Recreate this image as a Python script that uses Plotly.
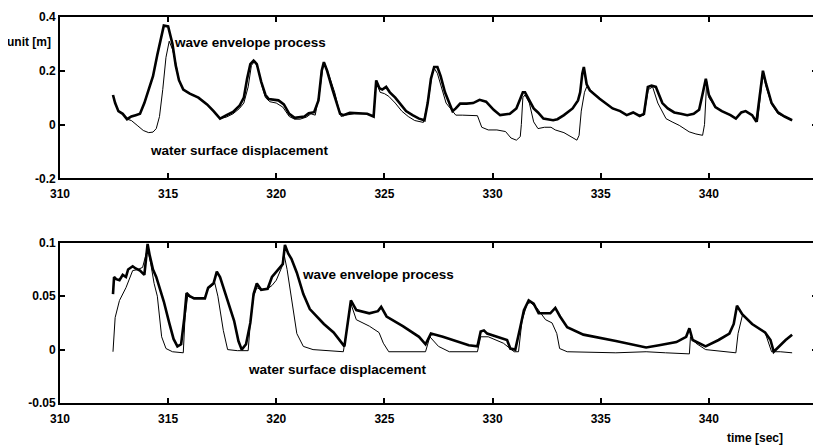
import plotly.graph_objects as go

# ---------------- top panel ----------------
t_env_top = [312.45, 312.55, 312.7, 312.9, 313.1, 313.3, 313.5, 313.7, 313.9, 314.1, 314.3, 314.5, 314.65, 314.8,
             315.0, 315.1, 315.2, 315.35, 315.5, 315.7, 316.0, 316.4, 316.8, 317.1, 317.4, 317.7, 318.0, 318.3,
             318.5, 318.65, 318.8, 318.95, 319.1, 319.3, 319.5, 319.65, 319.9, 320.1, 320.35, 320.6, 320.85,
             321.1, 321.3, 321.5, 321.75, 321.95, 322.1, 322.2, 322.35, 322.6, 322.8, 322.95, 323.1, 323.4,
             323.8, 324.2, 324.5, 324.62, 324.77, 324.9, 325.08, 325.25, 325.5, 325.7, 326.0, 326.3, 326.6,
             326.85, 327.0, 327.15, 327.3, 327.45, 327.6, 327.8, 328.0, 328.15, 328.3, 328.5, 328.8, 329.1,
             329.4, 329.7, 330.05, 330.35, 330.8, 331.1, 331.3, 331.4, 331.5, 331.6, 331.9, 332.1, 332.35,
             332.8, 333.0, 333.3, 333.7, 333.95, 334.05, 334.15, 334.22, 334.35, 334.5, 334.95, 335.2, 335.55,
             335.9, 336.2, 336.5, 336.8, 337.0, 337.18, 337.35, 337.55, 337.7, 337.85, 338.1, 338.4, 338.7,
             339.0, 339.3, 339.55, 339.7, 339.86, 340.0, 340.3, 340.6, 341.0, 341.25, 341.5, 341.7, 342.0,
             342.2, 342.35, 342.5, 342.65, 342.9, 343.2, 343.5, 343.85]
y_env_top = [0.11, 0.08, 0.05, 0.04, 0.02, 0.03, 0.035, 0.04, 0.08, 0.13, 0.18, 0.26, 0.32, 0.368,
             0.365, 0.33, 0.30, 0.22, 0.165, 0.13, 0.115, 0.10, 0.075, 0.05, 0.022, 0.035, 0.047, 0.07,
             0.10, 0.17, 0.225, 0.238, 0.225, 0.16, 0.11, 0.095, 0.092, 0.09, 0.075, 0.04, 0.025,
             0.028, 0.03, 0.042, 0.046, 0.09, 0.20, 0.232, 0.20, 0.13, 0.08, 0.04, 0.035, 0.044,
             0.042, 0.04, 0.03, 0.164, 0.135, 0.13, 0.14, 0.12, 0.10, 0.08, 0.05, 0.035, 0.022,
             0.016, 0.08, 0.17, 0.214, 0.214, 0.18, 0.12, 0.08, 0.05, 0.06, 0.078, 0.078, 0.08,
             0.092, 0.085, 0.055, 0.035, 0.04, 0.06, 0.10, 0.12, 0.12, 0.105, 0.06, 0.045, 0.022,
             0.016, 0.02, 0.035, 0.06, 0.09, 0.12, 0.19, 0.214, 0.15, 0.127, 0.096, 0.08, 0.06,
             0.05, 0.035, 0.045, 0.032, 0.04, 0.14, 0.145, 0.14, 0.11, 0.08, 0.06, 0.045, 0.04,
             0.035, 0.04, 0.055, 0.11, 0.17, 0.11, 0.065, 0.05, 0.035, 0.022, 0.045, 0.05, 0.035,
             0.01, 0.10, 0.20, 0.15, 0.08, 0.045, 0.03, 0.016]

t_wat_top = [312.45, 312.55, 312.7, 312.9, 313.1, 313.3, 313.6, 313.85, 314.1, 314.3, 314.45, 314.6, 314.75,
             314.9, 315.05, 315.2, 315.35, 315.5, 315.7, 316.0, 316.4, 316.8, 317.1, 317.4, 317.7, 318.0,
             318.3, 318.5, 318.7, 318.85, 319.0, 319.15, 319.35, 319.5, 319.7, 320.0, 320.3, 320.6, 320.85,
             321.1, 321.4, 321.6, 321.8, 322.0, 322.15, 322.25, 322.45, 322.7, 322.85, 323.0, 323.2, 323.6,
             324.2, 324.5, 324.62, 324.8, 325.0, 325.2, 325.5, 325.8, 326.1, 326.4, 326.8, 327.05, 327.2,
             327.3, 327.45, 327.65, 327.85, 328.0, 328.3, 328.6, 329.0, 329.3, 329.5, 329.8, 330.2, 330.6,
             330.85, 331.1, 331.28, 331.33, 331.4, 331.5, 331.7, 331.9, 332.1, 332.4, 332.7, 332.9, 333.3,
             333.6, 333.9, 334.0, 334.1, 334.25, 334.35, 334.5, 334.95, 335.2, 335.55, 335.9, 336.2, 336.5,
             336.8, 337.0, 337.2, 337.4, 337.64, 338.02, 338.3, 338.63, 339.09, 339.4, 339.71, 339.8, 339.9,
             340.0, 340.3, 340.6, 341.0, 341.25, 341.5, 341.7, 342.0, 342.25, 342.4, 342.5, 342.65, 342.9,
             343.2, 343.5, 343.85]
y_wat_top = [0.11, 0.08, 0.05, 0.04, 0.02, 0.015, -0.005, -0.022, -0.03, -0.028, -0.015, 0.03, 0.13,
             0.25, 0.31, 0.28, 0.23, 0.165, 0.13, 0.115, 0.10, 0.075, 0.05, 0.022, 0.028, 0.04,
             0.06, 0.08, 0.14, 0.22, 0.235, 0.21, 0.14, 0.10, 0.085, 0.08, 0.065, 0.03, 0.02,
             0.02, 0.028, 0.04, 0.035, 0.12, 0.21, 0.226, 0.18, 0.12, 0.07, 0.03, 0.035, 0.04,
             0.04, 0.03, 0.16, 0.12, 0.115, 0.105, 0.08, 0.05, 0.03, 0.015, 0.008, 0.10, 0.19,
             0.21, 0.19, 0.13, 0.08, 0.065, 0.035, 0.035, 0.035, 0.033, -0.01, -0.02, -0.02, -0.026,
             -0.05, -0.058, -0.045, 0.0, 0.10, 0.11, 0.08, 0.01, -0.015, -0.01, -0.01, -0.02, -0.03,
             -0.045, -0.058, -0.04, 0.05, 0.12, 0.14, 0.13, 0.096, 0.08, 0.06, 0.05, 0.035, 0.045,
             0.032, 0.035, 0.13, 0.14, 0.08, 0.022, 0.01, -0.003, -0.027, -0.035, -0.04, 0.0, 0.16,
             0.10, 0.065, 0.05, 0.035, 0.022, 0.045, 0.05, 0.035, 0.01, 0.12, 0.19, 0.14, 0.075,
             0.04, 0.028, 0.016]

# ---------------- bottom panel ----------------
t_env_bot = [312.45, 312.5, 312.6, 312.75, 312.9, 313.05, 313.15, 313.36, 313.5, 313.7, 313.9, 314.0, 314.05,
             314.15, 314.3, 314.45, 314.6, 314.8, 315.05, 315.25, 315.43, 315.6, 315.75, 315.85, 316.0, 316.2,
             316.7, 316.85, 317.1, 317.25, 317.4, 317.6, 317.8, 318.05, 318.25, 318.4, 318.6, 318.8, 318.95,
             319.1, 319.3, 319.6, 319.8, 320.1, 320.3, 320.4, 320.55, 320.7, 320.8, 320.95, 321.25, 321.55,
             322.2, 322.65, 323.15, 323.45, 323.7, 324.3, 324.7, 324.85, 325.1, 325.85, 326.6, 326.9, 327.15,
             327.7, 328.9, 329.3, 329.45, 329.6, 329.75, 330.2, 330.67, 330.82, 331.05, 331.28, 331.45, 331.67,
             331.9, 332.13, 332.67, 332.9, 333.12, 333.45, 334.2, 335.7, 337.1, 337.7, 338.5, 338.95, 339.1,
             339.25, 339.85, 340.45, 340.95, 341.15, 341.3, 341.55, 342.0, 342.6, 342.85, 343.0, 343.25,
             343.55, 343.85]
y_env_bot = [0.052, 0.068, 0.066, 0.065, 0.07, 0.068, 0.075, 0.078, 0.076, 0.074, 0.07, 0.09, 0.099,
             0.088, 0.075, 0.068, 0.058, 0.045, 0.025, 0.01, 0.003, 0.005, 0.03, 0.053, 0.05, 0.048,
             0.048, 0.058, 0.062, 0.073, 0.068, 0.055, 0.042, 0.027, 0.008, 0.0, 0.005, 0.025, 0.052,
             0.062, 0.056, 0.057, 0.068, 0.075, 0.08, 0.098, 0.09, 0.085, 0.08, 0.072, 0.052, 0.038,
             0.024, 0.016, 0.003, 0.046, 0.037, 0.034, 0.036, 0.04, 0.031, 0.022, 0.012, 0.005, 0.015,
             0.012, 0.004, 0.003, 0.017, 0.018, 0.015, 0.012, 0.009, 0.001, 0.0, 0.021, 0.037, 0.046,
             0.043, 0.034, 0.034, 0.039, 0.031, 0.021, 0.014, 0.008, 0.002, 0.004, 0.007, 0.012, 0.02,
             0.009, 0.003, 0.009, 0.015, 0.024, 0.041, 0.033, 0.024, 0.016, 0.009, -0.002, 0.003,
             0.009, 0.014]

t_wat_bot = [312.45, 312.55, 312.75, 313.05, 313.36, 313.6, 313.82, 314.05, 314.2, 314.35, 314.5, 314.6, 314.7,
             314.9, 315.2, 315.7, 315.78, 315.9, 316.2, 316.7, 316.85, 317.05, 317.15, 317.3, 317.45, 317.55,
             317.75, 318.2, 318.7, 318.8, 318.95, 319.1, 319.3, 319.6, 319.8, 320.0, 320.25, 320.35, 320.5,
             320.65, 320.8, 320.95, 321.25, 321.7, 323.1, 323.45, 323.7, 324.3, 324.75, 324.95, 325.2, 326.9,
             327.1, 327.5, 328.0, 329.3, 329.45, 329.8, 330.5, 331.0, 331.2, 331.36, 331.6, 331.75, 332.05,
             332.45, 332.75, 332.97, 333.1, 333.45, 335.7, 337.1, 338.0, 339.1, 339.15, 339.4, 339.85, 341.25,
             341.35, 341.55, 342.0, 342.6, 342.9, 343.3, 343.85]
y_wat_bot = [-0.002, 0.03, 0.046, 0.058, 0.074, 0.075, 0.077, 0.095, 0.08, 0.062, 0.05, 0.03, 0.012,
             0.001, -0.002, -0.003, 0.03, 0.05, 0.048, 0.048, 0.057, 0.06, 0.063, 0.05, 0.03, 0.018,
             0.0, -0.001, -0.001, 0.025, 0.05, 0.058, 0.056, 0.057, 0.06, 0.065, 0.077, 0.09, 0.075,
             0.055, 0.035, 0.015, 0.003, 0.0, -0.002, 0.043, 0.028, 0.022, 0.016, 0.006, -0.002, -0.002,
             0.012, 0.003, -0.002, -0.002, 0.012, 0.012, 0.006, -0.002, -0.002, 0.027, 0.043, 0.044, 0.039,
             0.028, 0.025, 0.015, 0.001, -0.002, -0.003, -0.002, -0.003, -0.004, 0.012, 0.006, 0.0, -0.003,
             0.015, 0.032, 0.024, 0.016, -0.002, -0.002, -0.003]

x_ticks = [310, 315, 320, 325, 330, 335, 340, 345]
y_ticks_top = [-0.2, 0, 0.2, 0.4]
y_ticks_bot = [-0.05, 0, 0.05, 0.1]

FONT = dict(family="Liberation Sans", size=12, color="black", weight="bold")

fig = go.Figure()
fig.add_trace(go.Scatter(x=t_wat_top, y=y_wat_top, mode="lines", line=dict(color="black", width=1),
                         xaxis="x", yaxis="y", showlegend=False))
fig.add_trace(go.Scatter(x=t_env_top, y=y_env_top, mode="lines", line=dict(color="black", width=2.6),
                         xaxis="x", yaxis="y", showlegend=False))
fig.add_trace(go.Scatter(x=t_wat_bot, y=y_wat_bot, mode="lines", line=dict(color="black", width=1),
                         xaxis="x2", yaxis="y2", showlegend=False))
fig.add_trace(go.Scatter(x=t_env_bot, y=y_env_bot, mode="lines", line=dict(color="black", width=2.6),
                         xaxis="x2", yaxis="y2", showlegend=False))

axis_common = dict(showline=True, linecolor="black", linewidth=1.8, mirror="ticks", ticks="inside",
                   ticklen=5, tickwidth=1.5, tickcolor="black", showgrid=False, zeroline=False,
                   tickfont=FONT)

# page body adds an 8px offset, so the figure is sized/margined to compensate
fig.update_layout(
    width=813, height=439,
    margin=dict(l=52, r=2, t=5, b=44),
    paper_bgcolor="white", plot_bgcolor="white",
    xaxis=dict(domain=[0, 1], anchor="y", range=[310, 345], tickvals=x_ticks,
               ticktext=[str(v) for v in x_ticks], ticklabelstandoff=3, **axis_common),
    yaxis=dict(domain=[0.582, 1], anchor="x", range=[-0.2, 0.4], tickvals=y_ticks_top,
               ticktext=["-0.2", "0", "0.2", "0.4"], **axis_common),
    xaxis2=dict(domain=[0, 1], anchor="y2", range=[310, 345], tickvals=x_ticks,
                ticktext=[str(v) for v in x_ticks], ticklabelstandoff=4, **axis_common),
    yaxis2=dict(domain=[0, 0.415], anchor="x2", range=[-0.05, 0.1], tickvals=y_ticks_bot,
                ticktext=["-0.05", "0", "0.05", "0.1"], **axis_common),
)

ann_font = dict(family="Liberation Sans", size=13.5, color="black", weight="bold")
fig.add_annotation(text="unit [m]", xref="paper", yref="y", x=-0.073, y=0.307, xanchor="left",
                   showarrow=False, font=dict(family="Liberation Sans", size=12, color="black", weight="bold"))
fig.add_annotation(text="wave envelope process", xref="x", yref="y", x=315.2, y=0.307, xanchor="left",
                   showarrow=False, font=ann_font)
fig.add_annotation(text="water surface displacement", xref="x", yref="y", x=314.05, y=-0.096,
                   xanchor="left", showarrow=False, font=ann_font)
fig.add_annotation(text="wave envelope process", xref="x2", yref="y2", x=321.1, y=0.0704, xanchor="left",
                   showarrow=False, font=ann_font)
fig.add_annotation(text="water surface displacement", xref="x2", yref="y2", x=318.6, y=-0.0185,
                   xanchor="left", showarrow=False, font=ann_font)
fig.add_annotation(text="time [sec]", xref="paper", yref="paper", x=0.958, y=-0.09, xanchor="right",
                   yanchor="middle", showarrow=False,
                   font=dict(family="Liberation Sans", size=12, color="black", weight="bold"))

fig.write_html("out.html")
